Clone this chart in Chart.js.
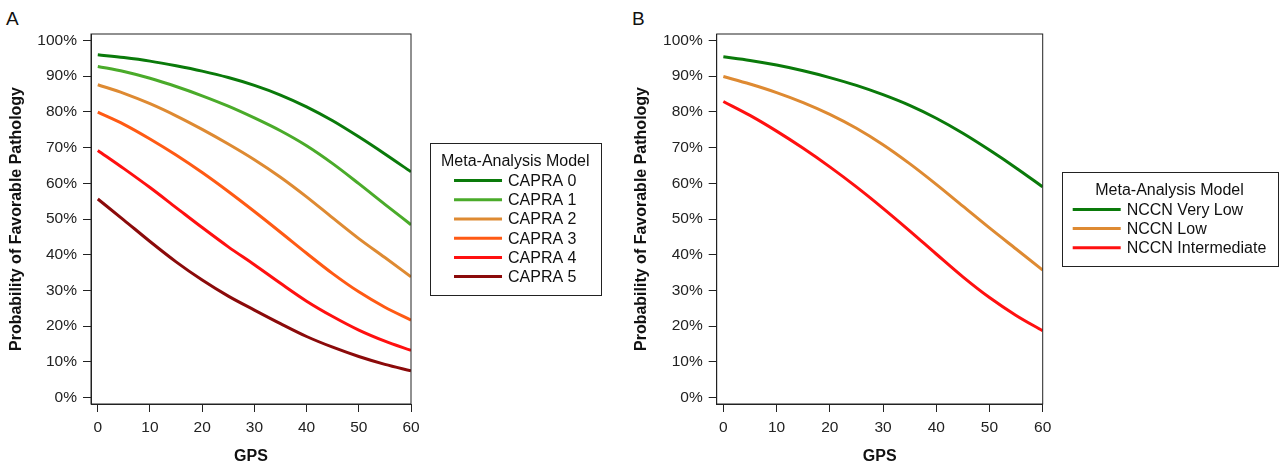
<!DOCTYPE html>
<html>
<head>
<meta charset="utf-8">
<script src="https://cdn.jsdelivr.net/npm/chart.js@4"></script>
<style>
  body { margin: 0; background: #fff; width: 1284px; height: 464px; position: relative; overflow: hidden; font-family: "Liberation Sans", Arial, sans-serif; }
  .panel { position: absolute; top: 0; }
  .tag { position: absolute; font-size: 19px; color: #111; }
</style>
</head>
<body>
<div class="tag" style="left:6px;top:8px">A</div>
<div class="tag" style="left:632px;top:8px">B</div>
<div class="panel" style="left:0"><canvas id="chartA" width="620" height="464"></canvas></div>
<div class="panel" style="left:620px"><canvas id="chartB" width="664" height="464"></canvas></div>
<script>
"use strict";

// GPS values where the curves were read
const gps = [0, 5, 10, 15, 20, 25, 30, 35, 40, 45, 50, 55, 60];

// Panel A - CAPRA groups
const capraLabels = ["CAPRA 0", "CAPRA 1", "CAPRA 2", "CAPRA 3", "CAPRA 4", "CAPRA 5"];
const capra0 = [96.0, 95.2, 94.2, 92.9, 91.4, 89.6, 87.4, 84.7, 81.4, 77.5, 73.0, 68.2, 63.2];
const capra1 = [92.7, 91.3, 89.4, 87.1, 84.5, 81.6, 78.3, 74.7, 70.5, 65.5, 59.9, 54.1, 48.4];
const capra2 = [87.6, 85.2, 82.3, 78.9, 75.1, 71.0, 66.6, 61.7, 56.2, 50.3, 44.5, 39.2, 33.8];
const capra3 = [79.9, 76.5, 72.4, 67.9, 63.0, 57.7, 52.1, 46.3, 40.4, 34.7, 29.6, 25.3, 21.7];
const capra4 = [69.2, 64.1, 58.8, 53.2, 47.6, 42.2, 37.2, 32.0, 27.0, 22.7, 18.9, 15.8, 13.2];
const capra5 = [55.6, 49.7, 43.7, 38.0, 32.9, 28.4, 24.5, 20.7, 17.1, 14.1, 11.5, 9.3, 7.5];
const capraColors = ["#0a7a0a", "#4aab2a", "#de8a32", "#ff5a14", "#ff1010", "#8b0a0a"];

// Panel B - NCCN groups
const nccnLabels = ["NCCN Very Low", "NCCN Low", "NCCN Intermediate"];
const nccnVeryLow = [95.4, 94.4, 93.1, 91.5, 89.6, 87.4, 84.8, 81.8, 78.2, 74.0, 69.3, 64.3, 59.0];
const nccnLow = [89.9, 87.8, 85.4, 82.6, 79.3, 75.4, 70.8, 65.5, 59.7, 53.6, 47.5, 41.6, 35.7];
const nccnInter = [82.9, 79.0, 74.6, 69.8, 64.6, 59.0, 53.0, 46.7, 40.2, 33.8, 28.0, 23.0, 18.7];
const nccnColors = ["#0a7a0a", "#de8a32", "#ff1010"];

const yTicks = [0, 10, 20, 30, 40, 50, 60, 70, 80, 90, 100];
const xTicks = [0, 10, 20, 30, 40, 50, 60];
const legendTitle = "Meta-Analysis Model";

const FONT = '"Liberation Sans", Arial, sans-serif';
const INK = "#222";

function series(labels, values, colors) {
  return labels.map((label, i) => ({
    label: label,
    data: gps.map((x, j) => ({ x: x, y: values[i][j] })),
    borderColor: colors[i],
    borderWidth: 3,
    pointRadius: 0,
    fill: false,
    cubicInterpolationMode: "monotone",
  }));
}

// box round the plot + boxed legend on the right
const frameAndLegend = {
  id: "frameAndLegend",
  afterDraw(chart) {
    const ctx = chart.ctx;
    const a = chart.chartArea;
    ctx.save();
    ctx.strokeStyle = INK;
    ctx.lineWidth = 1;
    ctx.strokeRect(a.left, a.top, a.right - a.left, a.bottom - a.top);

    const items = chart.data.datasets;
    ctx.font = "16px " + FONT;
    const lineLen = 48, gap = 6, rowH = 19.2, pad = 11, edge = 18.3;
    const titleW = ctx.measureText(legendTitle).width;
    const itemW = lineLen + gap + Math.max(...items.map(d => ctx.measureText(d.label).width));
    const boxW = Math.max(titleW, itemW) + 2 * pad;
    const boxH = 2 * edge + rowH * items.length;
    const left = a.right + 19;
    const top = (a.top + a.bottom) / 2 - boxH / 2;
    ctx.strokeRect(Math.round(left) + 0.5, Math.round(top) + 0.5, Math.round(boxW), Math.round(boxH));

    ctx.fillStyle = "#111";
    ctx.textBaseline = "middle";
    ctx.textAlign = "center";
    ctx.fillText(legendTitle, left + boxW / 2, top + edge);
    ctx.textAlign = "left";
    const x0 = left + (boxW - itemW) / 2;
    items.forEach((d, i) => {
      const y = top + edge + rowH * (i + 1);
      ctx.strokeStyle = d.borderColor;
      ctx.lineWidth = 3;
      ctx.beginPath();
      ctx.moveTo(x0, y);
      ctx.lineTo(x0 + lineLen, y);
      ctx.stroke();
      ctx.fillText(d.label, x0 + lineLen + gap, y + 1);
    });
    ctx.restore();
  },
};

function makeChart(id, datasets, opt) {
  return new Chart(document.getElementById(id), {
    type: "line",
    data: { datasets: datasets },
    plugins: [frameAndLegend],
    options: {
      responsive: false,
      animation: false,
      layout: { padding: { top: 34, right: opt.padRight, bottom: 0, left: 0 } },
      plugins: { legend: { display: false }, tooltip: { enabled: false } },
      scales: {
        x: {
          type: "linear",
          min: opt.xMin,
          max: 60,
          afterBuildTicks: s => { s.ticks = xTicks.map(v => ({ value: v })); },
          afterFit: s => { s.height = 60; },
          grid: { drawOnChartArea: false, drawTicks: true, tickLength: 8, color: INK, tickColor: INK },
          border: { display: true, color: INK, width: 1 },
          ticks: { color: INK, padding: 6, font: { size: 15.5, family: FONT } },
          title: { display: true, text: "GPS", color: "#111", padding: { top: 0, bottom: 0 }, font: { size: 16, weight: "bold", family: FONT, lineHeight: 0.9 } },
        },
        y: {
          min: -1.8,
          max: 101.8,
          afterBuildTicks: s => { s.ticks = yTicks.map(v => ({ value: v })); },
          afterFit: s => { s.width = opt.yWidth; },
          grid: { drawOnChartArea: false, drawTicks: true, tickLength: 8, color: INK, tickColor: INK },
          border: { display: true, color: INK, width: 1 },
          ticks: { color: INK, padding: 6, font: { size: 15.5, family: FONT }, callback: v => v + "%" },
          title: { display: true, text: "Probability of Favorable Pathology", color: "#111", padding: { top: opt.titlePad, bottom: 0 }, font: { size: 16, weight: "bold", family: FONT } },
        },
      },
    },
  });
}

makeChart("chartA",
  series(capraLabels, [capra0, capra1, capra2, capra3, capra4, capra5], capraColors),
  { padRight: 209, yWidth: 91, xMin: -1.3, titlePad: 7 });

makeChart("chartB",
  series(nccnLabels, [nccnVeryLow, nccnLow, nccnInter], nccnColors),
  { padRight: 241.3, yWidth: 96.7, xMin: -1.25, titlePad: 12 });
</script>
</body>
</html>
